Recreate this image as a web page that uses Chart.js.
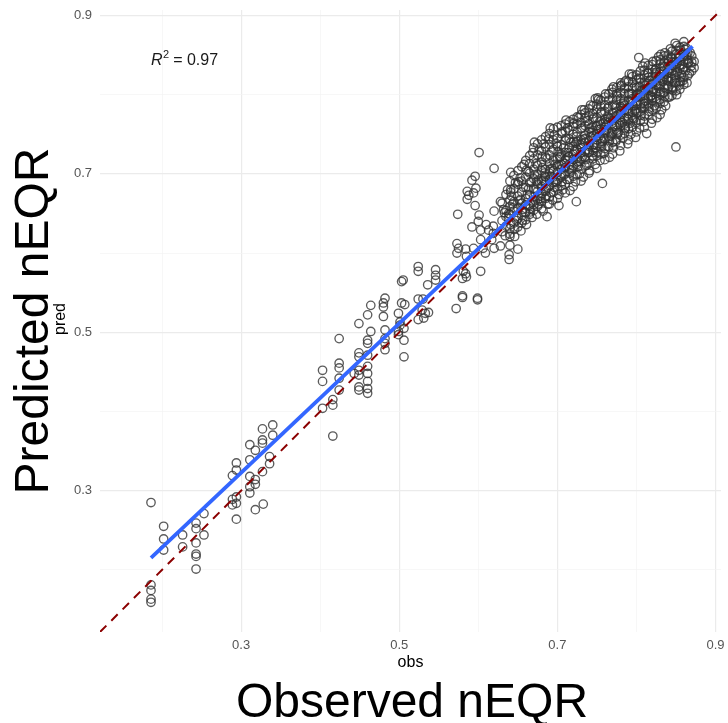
<!DOCTYPE html>
<html>
<head>
<meta charset="utf-8">
<script src="https://cdn.jsdelivr.net/npm/chart.js@4.4.1/dist/chart.umd.min.js"></script>
<style>
html,body{margin:0;padding:0;background:#fff;}
#wrap{width:728px;height:723px;position:relative;}
</style>
</head>
<body>
<div id="wrap"><canvas id="c" width="728" height="723"></canvas></div>
<script>
// ---- data ----
const axisMin = 0.1215, axisMax = 0.907;
const tickValues = [0.2, 0.3, 0.4, 0.5, 0.6, 0.7, 0.8, 0.9];
const tickLabels = ['', '0.3', '', '0.5', '', '0.7', '', '0.9'];

const obsSparse = [0.186,0.186,0.186,0.186,0.186,0.202,0.202,0.202,0.226,0.226,0.243,0.243,0.243,0.243,0.243,0.243,0.253,0.253,
0.289,0.294,0.294,0.289,0.289,0.294,0.294,0.294,0.311,0.311,0.311,0.311,0.311,0.318,0.318,0.318,0.318,0.327,0.327,0.327,0.327,0.328,
0.336,0.336,0.340,0.340,0.403,0.403,0.403,0.416,0.416,0.416,0.424,0.424,0.424,0.424,0.424,
0.449,0.449,0.449,0.449,0.449,0.449,0.449,0.443,0.460,0.460,0.460,0.460,0.460,0.460,0.460,0.460,0.460,0.464,0.464,
0.480,0.480,0.482,0.480,0.482,0.482,0.482,0.482,0.503,0.505,0.503,0.507,0.499,0.501,0.501,0.499,0.499,0.506,0.506,0.506,
0.524,0.524,0.536,0.524,0.530,0.529,0.533,0.524,0.531,0.537,0.546,0.546,0.546,0.572,0.580,0.580,0.584,0.599,0.603,
0.601,0.620,0.641,0.592,0.596,0.586,0.588,0.586,0.594,0.597,0.596,0.574,0.601,0.592,0.600,0.610,0.613,0.620,0.603,0.603,
0.619,0.619,0.617,0.620,0.628,0.632,0.628,0.640,0.640,0.640,0.639,0.639,0.650,0.641,0.573,0.575,0.573,0.584,0.585,0.581,0.585,
0.606,0.609,0.594,0.580,0.599,
0.803,0.850,0.748,0.873,0.873,0.780,0.757,0.849,0.860,0.724,0.702,0.687];
const predSparse = [0.285,0.181,0.174,0.163,0.159,0.255,0.239,0.225,0.244,0.229,0.259,0.252,0.234,0.220,0.217,0.201,0.271,0.244,
0.319,0.335,0.326,0.289,0.282,0.292,0.284,0.264,0.358,0.339,0.318,0.305,0.297,0.351,0.314,0.308,0.276,0.378,0.364,0.360,0.324,0.283,
0.343,0.334,0.383,0.370,0.452,0.438,0.404,0.415,0.408,0.369,0.492,0.461,0.455,0.442,0.427,
0.511,0.474,0.469,0.452,0.446,0.431,0.427,0.448,0.522,0.490,0.486,0.471,0.457,0.448,0.438,0.429,0.423,0.534,0.501,
0.537,0.532,0.543,0.520,0.503,0.492,0.486,0.478,0.564,0.566,0.537,0.535,0.524,0.513,0.509,0.501,0.497,0.505,0.490,0.469,
0.583,0.577,0.560,0.542,0.542,0.528,0.524,0.516,0.518,0.525,0.579,0.572,0.566,0.530,0.544,0.568,0.574,0.541,0.577,
0.727,0.707,0.702,0.692,0.697,0.678,0.673,0.668,0.676,0.682,0.660,0.649,0.648,0.633,0.640,0.636,0.629,0.653,0.629,0.617,
0.634,0.625,0.617,0.606,0.665,0.655,0.609,0.631,0.621,0.610,0.598,0.592,0.605,0.680,0.612,0.606,0.600,0.605,0.596,0.577,0.570,
0.606,0.600,0.606,0.546,0.543,
0.847,0.734,0.795,0.834,0.842,0.815,0.688,0.865,0.867,0.665,0.660,0.646];

const cloudObs = [0.630,0.635,0.640,0.645,0.650,0.655,0.660,0.665,0.670,0.675,0.680,0.685,0.690,0.695,0.700,0.705,0.710,0.715,0.720,0.725,
0.730,0.735,0.740,0.745,0.750,0.755,0.760,0.765,0.770,0.775,0.780,0.785,0.790,0.795,0.800,0.805,0.810,0.815,0.820,0.825,
0.830,0.835,0.840,0.845,0.850,0.855,0.860,0.865,0.870];
const cloudPred = [
[0.641,0.663,0.627],[0.654,0.674,0.634,0.646],[0.649,0.667,0.691,0.624,0.659],[0.653,0.681,0.638,0.698,0.665],
[0.672,0.644,0.687,0.657,0.633,0.704],[0.663,0.691,0.647,0.677,0.709,0.638],[0.669,0.651,0.696,0.683,0.717,0.642,0.661],
[0.673,0.701,0.656,0.689,0.723,0.649,0.713],[0.682,0.661,0.706,0.694,0.733,0.654,0.719,0.671],[0.687,0.667,0.711,0.699,0.738,0.659,0.724,0.678],
[0.691,0.675,0.715,0.704,0.743,0.665,0.729,0.684,0.656],[0.696,0.678,0.721,0.706,0.747,0.669,0.734,0.689],
[0.701,0.685,0.724,0.713,0.751,0.671,0.737,0.693,0.662],[0.704,0.689,0.731,0.717,0.757,0.677,0.743,0.696],
[0.710,0.692,0.735,0.719,0.759,0.681,0.745,0.702,0.669],[0.712,0.698,0.737,0.725,0.761,0.685,0.751,0.706],
[0.718,0.700,0.742,0.727,0.763,0.687,0.754,0.708,0.676],[0.722,0.706,0.744,0.733,0.766,0.693,0.755,0.712],
[0.725,0.710,0.750,0.735,0.769,0.697,0.760,0.718,0.684],[0.731,0.712,0.753,0.741,0.772,0.699,0.763,0.720],
[0.733,0.719,0.757,0.743,0.775,0.706,0.765,0.727,0.691],[0.740,0.721,0.761,0.749,0.777,0.710,0.770,0.729],
[0.742,0.727,0.763,0.753,0.782,0.713,0.774,0.735,0.701],[0.748,0.730,0.769,0.755,0.786,0.719,0.776,0.737],
[0.751,0.736,0.771,0.761,0.788,0.723,0.782,0.743,0.707],[0.757,0.738,0.777,0.763,0.793,0.725,0.785,0.745],
[0.759,0.744,0.779,0.769,0.797,0.732,0.787,0.752,0.718],[0.765,0.747,0.785,0.771,0.801,0.734,0.793,0.754],
[0.767,0.753,0.787,0.777,0.803,0.740,0.795,0.760,0.725],[0.773,0.755,0.793,0.779,0.809,0.743,0.801,0.762],
[0.775,0.761,0.795,0.785,0.811,0.749,0.803,0.768,0.736],[0.781,0.763,0.801,0.787,0.816,0.751,0.808,0.770],
[0.783,0.769,0.802,0.793,0.817,0.757,0.810,0.776,0.743],[0.789,0.771,0.808,0.795,0.823,0.759,0.815,0.778],
[0.791,0.777,0.809,0.800,0.825,0.765,0.819,0.782,0.753],[0.797,0.779,0.815,0.802,0.830,0.767,0.820,0.788],
[0.799,0.785,0.816,0.807,0.831,0.773,0.825,0.789,0.759],[0.805,0.787,0.822,0.809,0.837,0.775,0.827,0.795],
[0.807,0.793,0.823,0.814,0.838,0.781,0.832,0.796,0.769],[0.812,0.795,0.828,0.816,0.843,0.783,0.833,0.802],
[0.814,0.801,0.829,0.821,0.844,0.789,0.839,0.803,0.775],[0.820,0.803,0.835,0.823,0.849,0.791,0.840,0.809],
[0.821,0.808,0.836,0.828,0.850,0.797,0.845,0.810],[0.827,0.810,0.841,0.830,0.855,0.799,0.846],
[0.828,0.815,0.842,0.835,0.856,0.805,0.821],[0.833,0.817,0.847,0.837,0.860,0.807],
[0.835,0.822,0.848,0.843,0.861,0.813],[0.840,0.824,0.853,0.844],[0.841,0.830,0.849]];

const cloudObsB = [0.633,0.634,0.637,0.638,0.641,0.642,0.644,0.646,0.647,0.648,
0.652,0.653,0.654,0.656,0.657,0.658,0.661,0.662,0.663,0.664,
0.667,0.668,0.669,0.671,0.672,0.673,0.674,0.676,0.677,0.678,
0.681,0.682,0.683,0.684,0.686,0.687,0.688,0.689,0.691,0.692,
0.693,0.694,0.696,0.697,0.698,0.699,0.702,0.703,0.704,0.706,
0.707,0.708,0.709,0.711,0.712,0.713,0.714,0.716,0.717,0.718,
0.721,0.722,0.723,0.724,0.726,0.727,0.728,0.729,0.731,0.732,
0.733,0.734,0.736,0.737,0.738,0.739,0.741,0.742,0.743,0.744,
0.746,0.747,0.748,0.749,0.751,0.752,0.753,0.754,0.756,0.757,
0.758,0.759,0.761,0.762,0.763,0.764,0.766,0.767,0.768,0.769,
0.771,0.772,0.773,0.774,0.776,0.777,0.778,0.779,0.781,0.782,
0.783,0.784,0.786,0.787,0.788,0.789,0.791,0.792,0.793,0.794,
0.796,0.797,0.798,0.799,0.801,0.802,0.803,0.804,0.806,0.807,
0.808,0.809,0.811,0.812,0.813,0.814,0.816,0.817,0.818,0.819,
0.821,0.822,0.823,0.824,0.826,0.827,0.828,0.829,0.831,0.832,
0.833,0.834,0.836,0.837,0.838,0.839,0.841,0.842,0.843,0.844,
0.846,0.847,0.848,0.849,0.851,0.852,0.853,0.854,0.856,0.857,
0.858,0.859,0.861,0.862,0.863,0.864,0.866,0.867,0.868,0.869];
const cloudPredB = [0.651,0.622,0.680,0.644,0.636,0.672,0.657,0.621,0.689,0.646,
0.666,0.695,0.628,0.655,0.683,0.712,0.636,0.674,0.703,0.660,
0.690,0.645,0.727,0.699,0.666,0.713,0.649,0.692,0.730,0.672,
0.708,0.653,0.738,0.697,0.681,0.719,0.662,0.744,0.706,0.676,
0.729,0.667,0.749,0.712,0.690,0.738,0.674,0.721,0.696,0.753,
0.680,0.733,0.713,0.745,0.693,0.758,0.722,0.679,0.740,0.705,
0.764,0.728,0.690,0.747,0.715,0.771,0.700,0.737,0.758,0.722,
0.696,0.781,0.745,0.711,0.767,0.730,0.704,0.787,0.752,0.723,
0.771,0.737,0.712,0.760,0.728,0.794,0.748,0.717,0.778,0.741,
0.764,0.726,0.801,0.755,0.735,0.783,0.721,0.770,0.748,0.807,
0.733,0.787,0.760,0.741,0.798,0.752,0.776,0.729,0.812,0.765,
0.745,0.792,0.757,0.818,0.781,0.738,0.801,0.764,0.750,0.826,
0.786,0.770,0.811,0.746,0.797,0.777,0.821,0.758,0.805,0.783,
0.836,0.766,0.812,0.792,0.751,0.828,0.779,0.818,0.798,0.764,
0.842,0.806,0.786,0.826,0.771,0.812,0.848,0.794,0.833,0.781,
0.817,0.802,0.853,0.786,0.826,0.812,0.842,0.797,0.858,0.821,
0.806,0.837,0.816,0.851,0.800,0.829,0.846,0.812,0.856,0.825,
0.838,0.818,0.851,0.830,0.859,0.815,0.841,0.827,0.853,0.836];

const cloudObsC = [0.6385,0.6435,0.6485,0.6535,0.6585,0.6635,0.6685,0.6735,0.6785,0.6835,
0.6885,0.6935,0.6985,0.7035,0.7085,0.7135,0.7185,0.7235,0.7285,0.7335,
0.7385,0.7435,0.7485,0.7535,0.7585,0.7635,0.7685,0.7735,0.7785,0.7835,
0.7885,0.7935,0.7985,0.8035,0.8085,0.8135,0.8185,0.8235,0.8285,0.8335,
0.8385,0.8435,0.8485,0.8535,0.8585,0.8635,0.641,0.651,0.661,0.671,
0.681,0.691,0.701,0.711,0.721,0.731,0.741,0.751,0.761,0.771,
0.781,0.791,0.801,0.811,0.821,0.831,0.841,0.851,0.646,0.656,
0.666,0.676,0.686,0.696,0.706,0.716,0.726,0.736,0.746,0.756,
0.766,0.776,0.786,0.796,0.806,0.816,0.826,0.836,0.846,0.856,
0.702,0.712,0.722,0.732,0.742,0.752,0.762,0.772,0.782,0.792,
0.802,0.812,0.822,0.832,0.842,0.852,0.862,0.692,0.682,0.672];
const cloudPredC = [0.650,0.662,0.641,0.668,0.652,0.681,0.664,0.690,0.669,0.701,
0.683,0.707,0.689,0.722,0.699,0.727,0.708,0.739,0.716,0.744,
0.727,0.759,0.733,0.766,0.745,0.773,0.751,0.784,0.763,0.789,
0.770,0.801,0.779,0.810,0.791,0.814,0.799,0.831,0.808,0.836,
0.819,0.847,0.824,0.851,0.832,0.849,0.677,0.690,0.705,0.740,
0.722,0.758,0.728,0.768,0.741,0.781,0.757,0.796,0.766,0.810,
0.780,0.826,0.789,0.840,0.804,0.851,0.817,0.862,0.630,0.641,
0.652,0.662,0.672,0.683,0.690,0.701,0.709,0.718,0.727,0.734,
0.742,0.750,0.759,0.767,0.774,0.783,0.791,0.798,0.808,0.816,
0.712,0.720,0.730,0.738,0.747,0.756,0.762,0.772,0.783,0.791,
0.801,0.806,0.817,0.826,0.833,0.840,0.857,0.697,0.692,0.680];

const lmObs = [0.186, 0.871];
const lmPred = [0.215, 0.861];
const refLine = [axisMin, axisMax];
const r2Text = '0.97';
const r2Pos = {x: 0.2285, y: 0.844};

// ---- build datasets ----
const points = [];
obsSparse.forEach((o, i) => points.push({x: o, y: predSparse[i]}));
cloudObs.forEach((o, i) => cloudPred[i].forEach(p => points.push({x: o, y: p})));
cloudObsB.forEach((o, i) => points.push({x: o, y: cloudPredB[i]}));
cloudObsC.forEach((o, i) => points.push({x: o, y: cloudPredC[i]}));
const lmPts = lmObs.map((o, i) => ({x: o, y: lmPred[i]}));
const refPts = refLine.map(v => ({x: v, y: v}));

const FONT = '"Liberation Sans", Arial, Helvetica, sans-serif';
const isMajor = v => [3,5,7,9].includes(Math.round(v * 10));

function zeroPad(s) { s.paddingTop = 0; s.paddingBottom = 0; s.paddingLeft = 0; s.paddingRight = 0; }

function axisOpts() {
  return {
    type: 'linear', min: axisMin, max: axisMax,
    afterBuildTicks: s => { s.ticks = tickValues.map(v => ({value: v})); },
    ticks: {
      autoSkip: false, maxRotation: 0,
      color: '#555555', font: {family: FONT, size: 13},
      callback: (v, i) => tickLabels[i]
    },
    grid: {
      drawTicks: false,
      color: ctx => isMajor(ctx.tick.value) ? '#ebebeb' : '#f3f3f3',
      lineWidth: ctx => isMajor(ctx.tick.value) ? 1.2 : 0.7
    },
    border: {display: false}
  };
}
const xOpts = axisOpts();
xOpts.ticks.padding = 6;
xOpts.afterFit = s => { s.height = 91; zeroPad(s); };
const yOpts = axisOpts();
yOpts.ticks.padding = 8;
yOpts.afterFit = s => { s.width = 100; zeroPad(s); };

const textPlugin = {
  id: 'texts',
  afterDraw(chart) {
    const ctx = chart.ctx, xs = chart.scales.x, ys = chart.scales.y;
    const area = chart.chartArea;
    ctx.save();
    // R^2 annotation
    const cx = xs.getPixelForValue(r2Pos.x), cy = ys.getPixelForValue(r2Pos.y);
    ctx.textBaseline = 'alphabetic';
    ctx.font = 'italic 16px ' + FONT;
    const wR = ctx.measureText('R').width;
    ctx.font = '11px ' + FONT;
    const w2 = ctx.measureText('2').width;
    ctx.font = '16px ' + FONT;
    const rest = ' = ' + r2Text;
    const wRest = ctx.measureText(rest).width;
    const x0 = cx - (wR + w2 + wRest) / 2;
    const base = cy + 5.5;
    ctx.fillStyle = '#1a1a1a';
    ctx.font = 'italic 16px ' + FONT; ctx.textAlign = 'left';
    ctx.fillText('R', x0, base);
    ctx.font = '11px ' + FONT;
    ctx.fillText('2', x0 + wR + 0.5, base - 7);
    ctx.font = '16px ' + FONT;
    ctx.fillText(rest, x0 + wR + w2, base);
    // axis titles
    ctx.fillStyle = '#000';
    ctx.textAlign = 'center';
    ctx.font = '16px ' + FONT;
    ctx.fillText('obs', (area.left + area.right) / 2, 667);
    ctx.font = '48px ' + FONT;
    ctx.fillText('Observed nEQR', 412, 717);
    ctx.save();
    ctx.translate(65, 319);
    ctx.rotate(-Math.PI / 2);
    ctx.font = '16px ' + FONT;
    ctx.fillText('pred', 0, 0);
    ctx.restore();
    ctx.save();
    ctx.translate(48, 321);
    ctx.rotate(-Math.PI / 2);
    ctx.font = '48px ' + FONT;
    ctx.fillText('Predicted nEQR', 0, 0);
    ctx.restore();
    ctx.restore();
  }
};

new Chart(document.getElementById('c'), {
  type: 'scatter',
  data: {
    datasets: [
      {label: 'ref', data: refPts, showLine: true, pointRadius: 0, borderColor: '#8b0000', borderWidth: 2, borderDash: [9, 7], order: 0},
      {label: 'lm', data: lmPts, showLine: true, pointRadius: 0, borderColor: '#3366ff', borderWidth: 3.8, order: 1},
      {label: 'pts', data: points, pointRadius: 4.2, pointBorderWidth: 1.35, pointBackgroundColor: 'rgba(0,0,0,0)', pointBorderColor: 'rgba(50,50,50,0.8)', order: 2}
    ]
  },
  options: {
    responsive: false, animation: false,
    devicePixelRatio: 1,
    layout: {padding: {top: 10, right: 7, left: 0, bottom: 0}},
    plugins: {legend: {display: false}, tooltip: {enabled: false}},
    scales: {x: xOpts, y: yOpts}
  },
  plugins: [textPlugin]
});
</script>
</body>
</html>
